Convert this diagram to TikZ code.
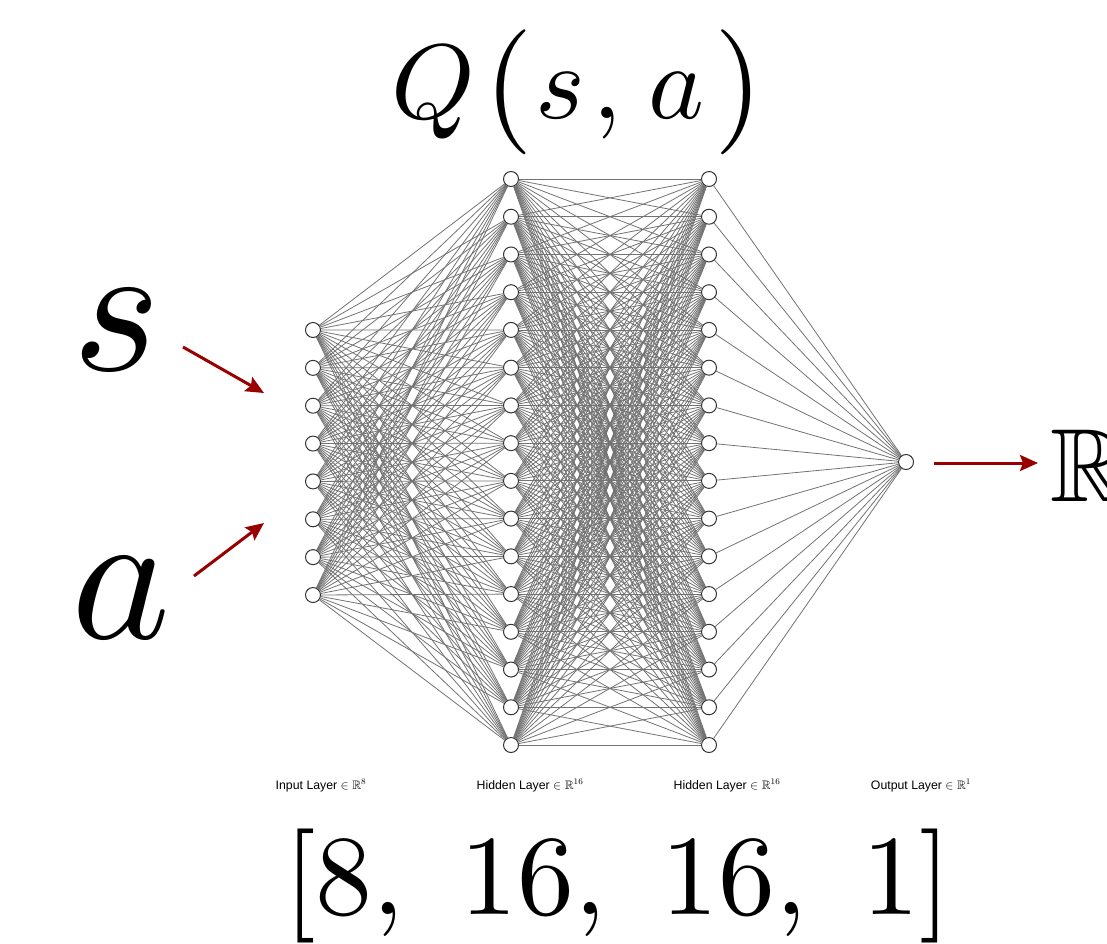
\RequirePackage{fix-cm}
\documentclass[tikz,border=0pt]{standalone}
\usepackage{amsmath,amssymb}
\usepackage{fontspec}
\newfontfamily\labelfont{Liberation Sans}
\usetikzlibrary{arrows.meta}
\definecolor{arrowred}{RGB}{153,0,0}
\definecolor{edgegray}{RGB}{115,115,115}
\font\cmmibig=cmmi10 at 106pt
\font\cmrparen=cmr10 at 125pt
\font\cmmihuge=cmmi10 at 188pt
\font\cmrdims=cmr10 at 114pt
\newcommand{\qparen}[1]{\raisebox{-5pt}{\cmrparen #1}}
\tikzset{
  neuron/.style={circle,draw=black!80,line width=1pt,fill=white,minimum size=15pt,inner sep=0pt},
  conn/.style={draw=edgegray,line width=0.8pt},
  redarrow/.style={draw=arrowred,line width=3pt,-{Stealth[length=18pt,width=16pt,inset=3pt]}},
  layerlabel/.style={font=\labelfont\fontsize{12.3}{14}\selectfont,anchor=base,inner sep=0pt},
  bigmath/.style={anchor=base,inner sep=0pt},
}
\begin{document}
\begin{tikzpicture}[x=1pt,y=-1pt]
\useasboundingbox (0,0) rectangle (1107,943);
% neurons
\foreach \i in {1,...,8} \node[neuron] (I\i) at (313,{330+37.857*(\i-1)}) {};
\foreach \j in {1,...,16} \node[neuron] (A\j) at (511,{179+37.733*(\j-1)}) {};
\foreach \j in {1,...,16} \node[neuron] (B\j) at (709,{179+37.733*(\j-1)}) {};
\node[neuron] (O) at (906,462) {};
% connections
\foreach \i in {1,...,8} \foreach \j in {1,...,16} \draw[conn] (I\i) -- (A\j);
\foreach \i in {1,...,16} \foreach \j in {1,...,16} \draw[conn] (A\i) -- (B\j);
\foreach \i in {1,...,16} \draw[conn] (B\i) -- (O);
% texts
\node[bigmath,anchor=base west] (q) at (391,118)
  {{\cmmibig Q}\kern9.5pt\qparen{(}\kern2pt{\cmmibig s}\kern7.8pt{\cmmibig\char59}\kern27pt{\cmmibig a}\kern9.5pt\qparen{)}};
\node[bigmath] (s) at (117,370) {\cmmihuge s};
\node[bigmath] (a) at (121,638) {\cmmihuge a};
\node[bigmath,anchor=base west,font=\fontsize{104}{120}\selectfont] (R) at (1050,501) {$\mathbb{R}$};
\node[bigmath] (dims) at (618,914) {\cmrdims [8,\hspace{0.49em}16,\hspace{0.49em}16,\hspace{0.49em}1]};
% layer labels
\node[layerlabel] (l1) at (321,789) {Input Layer $\in\mathbb{R}^{8}$};
\node[layerlabel] (l2) at (530,789) {Hidden Layer $\in\mathbb{R}^{16}$};
\node[layerlabel] (l3) at (727,789) {Hidden Layer $\in\mathbb{R}^{16}$};
\node[layerlabel] (l4) at (921,789) {Output Layer $\in\mathbb{R}^{1}$};
% arrows
\coordinate (sstart) at (183,347);
\coordinate (send) at (264,393);
\coordinate (astart) at (194,576);
\coordinate (aend) at (264,523);
\coordinate (ostart) at (934,463);
\coordinate (oend) at (1038,463);
\draw[redarrow] (sstart) -- (send);
\draw[redarrow] (astart) -- (aend);
\draw[redarrow] (ostart) -- (oend);
\end{tikzpicture}
\end{document}
